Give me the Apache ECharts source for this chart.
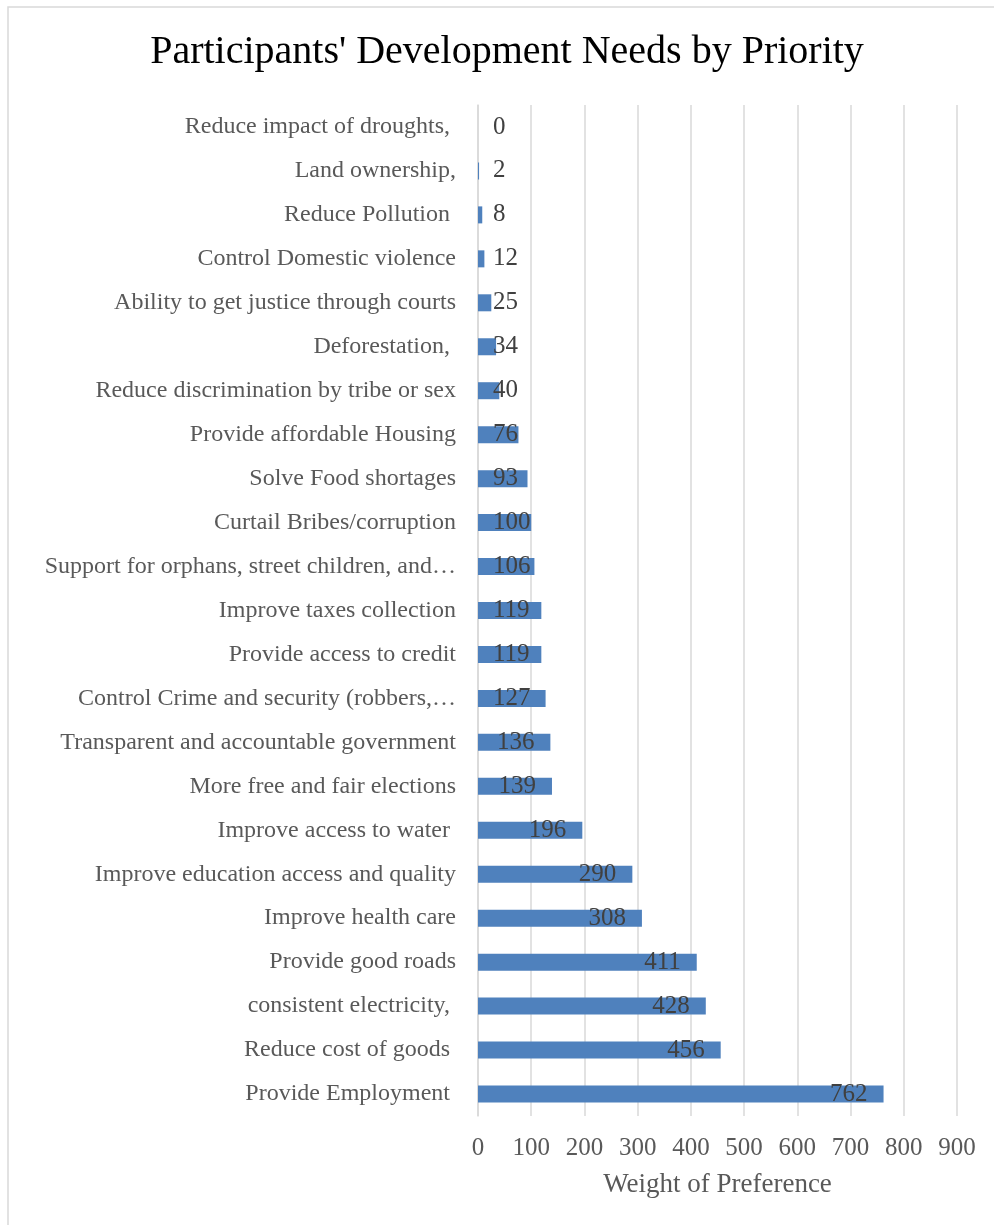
<!DOCTYPE html>
<html>
<head>
<meta charset="utf-8">
<script src="https://cdn.jsdelivr.net/npm/echarts@6/dist/echarts.min.js"></script>
<style>
  html, body { margin: 0; padding: 0; background: #fff; }
  #chart { width: 994px; height: 1225px; }
</style>
</head>
<body>
<div id="chart"></div>
<script>
// categories, top to bottom as shown
var needs = [
    "Reduce impact of droughts, ",
    "Land ownership,",
    "Reduce Pollution ",
    "Control Domestic violence",
    "Ability to get justice through courts",
    "Deforestation, ",
    "Reduce discrimination by tribe or sex",
    "Provide affordable Housing",
    "Solve Food shortages",
    "Curtail Bribes/corruption",
    "Support for orphans, street children, and…",
    "Improve taxes collection",
    "Provide access to credit",
    "Control Crime and security (robbers,…",
    "Transparent and accountable government",
    "More free and fair elections",
    "Improve access to water ",
    "Improve education access and quality",
    "Improve health care",
    "Provide good roads",
    "consistent electricity, ",
    "Reduce cost of goods ",
    "Provide Employment "
];
var weights = [0, 2, 8, 12, 25, 34, 40, 76, 93, 100, 106, 119, 119, 127, 136, 139, 196, 290, 308, 411, 428, 456, 762];

var font = "Liberation Serif";
var pxPerUnit = 479 / 900;

// labels sit inside the bar end, but never closer than 15px to the axis
var barData = weights.map(function(v) {
    var textW = String(v).length * 12.5;
    var inside = v * pxPerUnit - 16 - textW >= 15;
    return {
        value: v,
        label: inside ? { position: "insideRight", distance: 16 } : { position: "insideLeft", distance: 15 }
    };
});

var chart = echarts.init(document.getElementById("chart"));
var option = {
    animation: false,
    backgroundColor: "#ffffff",
    graphic: [{
        type: "rect",
        shape: { x: 8, y: 7, width: 1000, height: 1230 },
        style: { fill: "none", stroke: "#d9d9d9", lineWidth: 1.5 }
    }],
    title: {
        text: "Participants' Development Needs by Priority",
        left: 502,
        top: 27,
        textAlign: "center",
        textStyle: {
            fontFamily: font,
            fontSize: 40,
            fontWeight: "normal",
            color: "#000000"
        }
    },
    grid: {
        left: 478,
        right: 37,
        top: 105,
        bottom: 109
    },
    xAxis: {
        type: "value",
        min: 0,
        max: 900,
        interval: 100,
        name: "Weight of Preference",
        nameLocation: "middle",
        nameGap: 55,
        nameTextStyle: {
            fontFamily: font,
            fontSize: 27,
            color: "#595959"
        },
        axisLine: { show: false },
        axisTick: { show: false },
        axisLabel: {
            margin: 20,
            fontFamily: font,
            fontSize: 25,
            color: "#595959"
        },
        splitLine: {
            lineStyle: { color: "#d9d9d9", width: 1.5 }
        }
    },
    yAxis: {
        type: "category",
        inverse: true,
        data: needs,
        axisLine: {
            lineStyle: { color: "#d9d9d9", width: 1.5 }
        },
        axisTick: { show: false },
        axisLabel: {
            margin: 22,
            fontFamily: font,
            fontSize: 24,
            color: "#595959"
        }
    },
    series: [{
        type: "bar",
        data: barData,
        barWidth: 17,
        itemStyle: { color: "#4f81bd" },
        label: {
            show: true,
            fontFamily: font,
            fontSize: 25,
            color: "#404040"
        }
    }]
};
chart.setOption(option);
</script>
</body>
</html>
